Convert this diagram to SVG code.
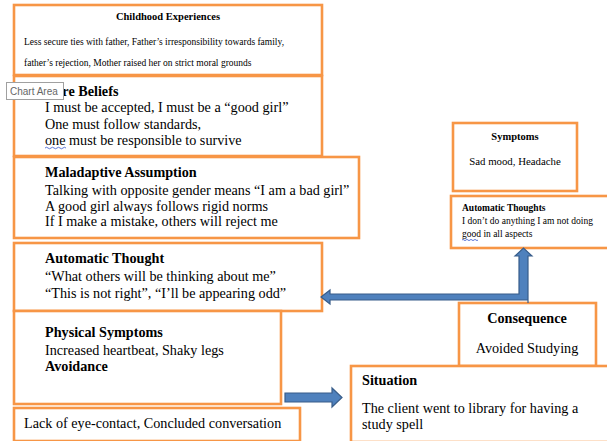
<svg xmlns="http://www.w3.org/2000/svg" width="607" height="441" viewBox="0 0 607 441">
<defs>
<style>
.box{fill:#fff;stroke:#F79646;stroke-width:2.6}
.t{font-family:"Liberation Serif","Times New Roman",serif;fill:#000}
.b{font-weight:bold}
.m{font-size:14.2px}
.arr{fill:#4F81BD;stroke:#385D8A;stroke-width:1.2}
.sq{fill:none;stroke:#3355cc;stroke-width:0.8}
</style>
</defs>
<rect width="607" height="441" fill="#fff"/>
<g id="childhood">
<rect class="box" x="14" y="5" width="308" height="70"/>
<text class="t b" x="168" y="20" font-size="10.5" text-anchor="middle">Childhood Experiences</text>
<text class="t" x="24" y="45" font-size="9.5">Less secure ties with father, Father’s irresponsibility towards family,</text>
<text class="t" x="24" y="66" font-size="9.5">father’s rejection, Mother raised her on strict moral grounds</text>
</g>
<g id="core-beliefs">
<rect class="box" x="14" y="76" width="308" height="80"/>
<text class="t b m" x="45" y="96">Core Beliefs</text>
<text class="t m" x="45" y="112">I must be accepted, I must be a “good girl”</text>
<text class="t m" x="45" y="129">One must follow standards,</text>
<text class="t m" x="45" y="145">one must be responsible to survive</text>
<path class="sq" d="M45 148 q1.5 -1.5 3 0 t3 0 t3 0 t3 0 t3 0 t3 0 t3 0"/>
</g>
<g id="maladaptive">
<rect class="box" x="14" y="157" width="345" height="81"/>
<text class="t b m" x="45" y="177">Maladaptive Assumption</text>
<text class="t m" x="45" y="195">Talking with opposite gender means “I am a bad girl”</text>
<text class="t m" x="45" y="211">A good girl always follows rigid norms</text>
<text class="t m" x="45" y="226">If I make a mistake, others will reject me</text>
</g>
<g id="automatic-thought">
<rect class="box" x="14" y="243" width="308" height="68"/>
<text class="t b m" x="45" y="263">Automatic Thought</text>
<text class="t m" x="45" y="281">“What others will be thinking about me”</text>
<text class="t m" x="45" y="298">“This is not right”, “I’ll be appearing odd”</text>
</g>
<g id="physical-symptoms">
<rect class="box" x="14" y="311" width="267" height="93"/>
<text class="t b m" x="45" y="337">Physical Symptoms</text>
<text class="t m" x="45" y="355">Increased heartbeat, Shaky legs</text>
<text class="t b m" x="45" y="371">Avoidance</text>
</g>
<g id="avoidance-behaviour">
<rect class="box" x="14" y="408" width="286" height="33"/>
<text class="t m" x="24" y="428">Lack of eye-contact, Concluded conversation</text>
</g>
<g id="symptoms">
<rect class="box" x="453" y="123" width="124" height="68"/>
<text class="t b" x="515" y="140" font-size="10.5" text-anchor="middle">Symptoms</text>
<text class="t" x="515" y="165" font-size="10.8" text-anchor="middle">Sad mood, Headache</text>
</g>
<g id="automatic-thoughts-right">
<rect class="box" x="451" y="196" width="158" height="52"/>
<text class="t b" x="462" y="211" font-size="9.5">Automatic Thoughts</text>
<text class="t" x="462" y="224" font-size="9.5">I don’t do anything I am not doing</text>
<text class="t" x="462" y="237" font-size="9.5">good in all aspects</text>
<path class="sq" d="M462 240 q1 -1.2 2 0 t2 0 t2 0 t2 0 t2 0 t2 0 t2 0 t2 0"/>
</g>
<g id="consequence">
<rect class="box" x="459" y="303" width="137" height="63"/>
<text class="t b m" x="527" y="323" text-anchor="middle">Consequence</text>
<text class="t m" x="527" y="353" text-anchor="middle">Avoided Studying</text>
</g>
<g id="situation">
<rect class="box" x="351" y="366" width="262" height="76"/>
<text class="t b m" x="362" y="385">Situation</text>
<text class="t m" x="362" y="413">The client went to library for having a</text>
<text class="t m" x="362" y="429">study spell</text>
</g>
<g id="connectors">
<path class="arr" d="M285 393 L332 393 L332 388 L342 397.5 L332 407 L332 402 L285 402 Z"/>
<path class="arr" d="M528 303 L528 256 L532 256 L523.5 248 L515 256 L519 256 L519 294 L330 294 L330 290 L321 297 L330 304 L330 300 L528 300 Z"/>
</g>
<g id="tooltip">
<rect x="6.5" y="82.5" width="57" height="17" fill="#fff" stroke="#a0a0a0" stroke-width="1"/>
<text x="10" y="95" font-family="'Liberation Sans',Arial,sans-serif" font-size="10" fill="#666">Chart Area</text>
</g>
</svg>
